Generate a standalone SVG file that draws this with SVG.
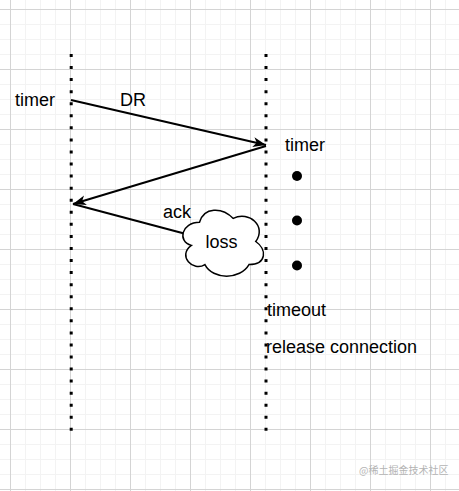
<svg xmlns="http://www.w3.org/2000/svg" width="459" height="491" viewBox="0 0 459 491">
<defs>
<pattern id="grid" patternUnits="userSpaceOnUse" x="10" y="9" width="60" height="60">
<rect x="15" y="0" width="1" height="60" fill="#f3f3f3"/>
<rect x="30" y="0" width="1" height="60" fill="#f3f3f3"/>
<rect x="45" y="0" width="1" height="60" fill="#f3f3f3"/>
<rect x="0" y="15" width="60" height="1" fill="#f3f3f3"/>
<rect x="0" y="30" width="60" height="1" fill="#f3f3f3"/>
<rect x="0" y="45" width="60" height="1" fill="#f3f3f3"/>
<rect x="0" y="0" width="1" height="60" fill="#d4d4d4"/>
<rect x="0" y="0" width="60" height="1" fill="#d4d4d4"/>
</pattern>
<marker id="arr" markerUnits="userSpaceOnUse" markerWidth="16" markerHeight="12" refX="13" refY="5" orient="auto">
<path d="M0,0 L13,5 L0,10 L3.5,5 Z" fill="#000"/>
</marker>
</defs>
<style>
.t{font-family:"Liberation Sans",Arial,sans-serif;font-size:18px;fill:#000}
.life{stroke:#000;stroke-width:3;stroke-dasharray:3 9.06;fill:none}
.edge{stroke:#000;stroke-width:2;fill:none}
</style>
<rect width="459" height="491" fill="#fff"/>
<rect width="459" height="491" fill="url(#grid)"/>

<g id="lifeline-left"><line class="life" x1="71.2" y1="54" x2="71.2" y2="431"/></g>
<g id="lifeline-right"><line class="life" x1="266" y1="54" x2="266" y2="431"/></g>

<g id="connectors">
<line class="edge" x1="71" y1="100" x2="266" y2="145" marker-end="url(#arr)"/>
<line class="edge" x1="266" y1="146" x2="73" y2="204" marker-end="url(#arr)"/>
<line class="edge" x1="186" y1="234" x2="73" y2="204"/>
</g>

<g id="loss">
<path d="M199.5,222.25 C181.5,222.25 177,241.5 191.4,245.35 C177,255.8 193.2,272.3 204.9,264.6 C213,280 240,280 249,264.6 C267,264.6 267,249.2 255.75,241.5 C267,226.1 249,210.7 233.25,218.4 C222,206.85 204,206.85 199.5,222.25 Z" fill="#fff" stroke="#000" stroke-width="1.5"/>
<text class="t" x="221.5" y="248" text-anchor="middle">loss</text>
</g>

<g id="labels">
<text class="t" x="15" y="106">timer</text>
<text class="t" x="120" y="106">DR</text>
<text class="t" x="285" y="151">timer</text>
<text class="t" x="163" y="218">ack</text>
<text class="t" x="267" y="316">timeout</text>
<text class="t" x="266" y="353">release connection</text>
</g>

<g id="dots" fill="#000">
<circle cx="297" cy="176" r="5"/>
<circle cx="297" cy="220.5" r="5"/>
<circle cx="297" cy="265.5" r="5"/>
</g>

<text x="359" y="474" font-family="'Noto Sans CJK SC',sans-serif" font-size="10" fill="#b4b4b4">@稀土掘金技术社区</text>
</svg>
